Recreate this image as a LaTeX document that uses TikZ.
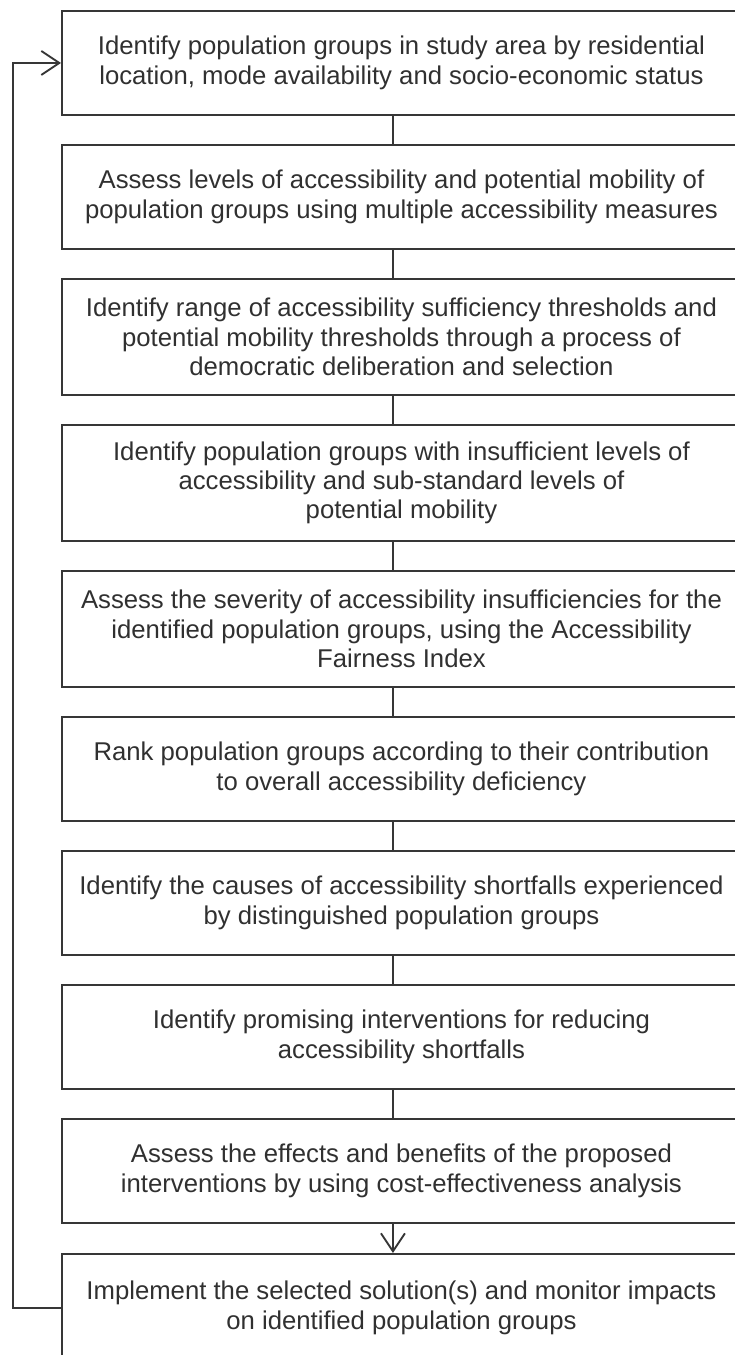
\documentclass[tikz,border=0pt]{standalone}
\usepackage{fontspec}
\setmainfont{Liberation Sans}
\usetikzlibrary{arrows.meta}
\definecolor{linecol}{HTML}{363636}
\definecolor{textcol}{HTML}{303030}
\tikzset{
  flowbox/.style={draw=linecol, line width=1.9pt, minimum width=679pt, align=center,
    inner sep=0pt, text=textcol, font=\fontsize{25.7}{29.3}\selectfont, anchor=north west},
  link/.style={draw=linecol, line width=1.9pt},
  arrowlink/.style={link, -{Straight Barb[length=18pt,width=24pt,line width=1.9pt]}}
}
\begin{document}
\begin{tikzpicture}[x=1pt,y=-1pt]
\useasboundingbox (0,0) rectangle (735,1355);
\clip (0,0) rectangle (735,1355);
\node[flowbox, minimum height=104pt] (b1) at (61,10) {Identify population groups in study area by residential\\location, mode availability and socio-economic status};
\node[flowbox, minimum height=104pt] (b2) at (61,144) {Assess levels of accessibility and potential mobility of\\population groups using multiple accessibility measures};
\node[flowbox, minimum height=116pt] (b3) at (61,278) {Identify range of accessibility sufficiency thresholds and\\potential mobility thresholds through a process of\\democratic deliberation and selection};
\node[flowbox, minimum height=116pt] (b4) at (61,424) {Identify population groups with insufficient levels of\\accessibility and sub-standard levels of\\potential mobility};
\node[flowbox, minimum height=116pt] (b5) at (61,570) {Assess the severity of accessibility insufficiencies for the\\identified population groups, using the Accessibility\\Fairness Index};
\node[flowbox, minimum height=104pt] (b6) at (61,716) {Rank population groups according to their contribution\\to overall accessibility deficiency};
\node[flowbox, minimum height=104pt] (b7) at (61,850) {Identify the causes of accessibility shortfalls experienced\\by distinguished population groups};
\node[flowbox, minimum height=104pt] (b8) at (61,984) {Identify promising interventions for reducing\\accessibility shortfalls};
\node[flowbox, minimum height=104pt] (b9) at (61,1118) {Assess the effects and benefits of the proposed\\interventions by using cost-effectiveness analysis};
\node[flowbox, minimum height=108pt] (b10) at (61,1253) {Implement the selected solution(s) and monitor impacts\\on identified population groups};
\foreach \a/\b in {b1/b2,b2/b3,b3/b4,b4/b5,b5/b6,b6/b7,b7/b8,b8/b9}{
  \draw[link] ([xshift=-8.5pt]\a.south) -- ([xshift=-8.5pt]\b.north);
}
\draw[arrowlink] ([xshift=-8.5pt]b9.south) -- ([xshift=-8.5pt]b10.north);
\coordinate (lp) at (13,0);
\draw[arrowlink] (b10.west) -- (b10.west -| lp) -- (b1.west -| lp) -- (b1.west);
\end{tikzpicture}
\end{document}
